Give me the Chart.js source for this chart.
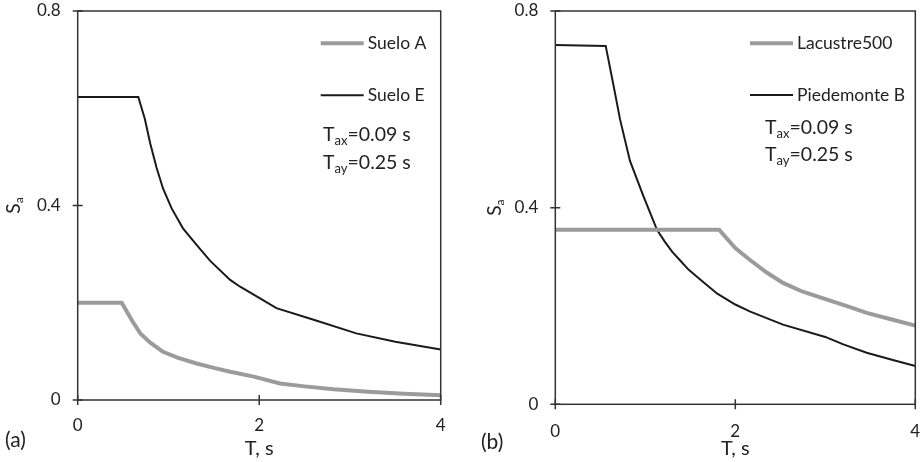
<!DOCTYPE html>
<html>
<head>
<meta charset="utf-8">
<script src="https://cdn.jsdelivr.net/npm/chart.js@4/dist/chart.umd.min.js"></script>
<style>
  body { margin: 0; background: #fff; }
  .panel { position: absolute; top: 0; width: 460px; height: 462px; }
</style>
</head>
<body>
<div class="panel" style="left:0"><canvas id="chartA" width="460" height="462"></canvas></div>
<div class="panel" style="left:460px"><canvas id="chartB" width="460" height="462"></canvas></div>
<script>
// panel (a)
var tSueloA = [0, 0.485, 0.6, 0.69, 0.8, 0.94, 1.1, 1.31, 1.5, 1.68, 1.94, 2.23, 2.5, 2.82, 3.2, 3.6, 4.0];
var sueloA  = [0.2, 0.2, 0.163, 0.137, 0.118, 0.099, 0.087, 0.075, 0.066, 0.058, 0.048, 0.034, 0.028, 0.022, 0.017, 0.013, 0.010];
var tSueloE = [0, 0.668, 0.74, 0.8, 0.87, 0.94, 1.035, 1.16, 1.31, 1.46, 1.68, 1.79, 2.0, 2.19, 2.6, 3.07, 3.5, 4.0];
var sueloE  = [0.623, 0.623, 0.578, 0.527, 0.477, 0.435, 0.394, 0.353, 0.319, 0.286, 0.247, 0.233, 0.21, 0.189, 0.165, 0.137, 0.12, 0.104];
// panel (b)
var tLacustre = [0, 1.82, 2.0, 2.16, 2.35, 2.53, 2.75, 3.02, 3.25, 3.46, 3.75, 4.0];
var lacustre  = [0.355, 0.355, 0.318, 0.294, 0.268, 0.247, 0.229, 0.213, 0.199, 0.186, 0.172, 0.160];
var tPiede = [0, 0.56, 0.64, 0.72, 0.83, 0.98, 1.13, 1.22, 1.3, 1.4, 1.48, 1.61, 1.8, 2.0, 2.16, 2.53, 3.0, 3.2, 3.46, 3.75, 4.0];
var piede  = [0.731, 0.729, 0.655, 0.579, 0.495, 0.423, 0.355, 0.33, 0.31, 0.29, 0.274, 0.254, 0.225, 0.203, 0.189, 0.162, 0.137, 0.122, 0.105, 0.09, 0.078];

var xTicks = [0, 2, 4];
var yTicks = [0, 0.4, 0.8];

var FONT = 'Lato, "Open Sans", sans-serif';
var AXIS = '#333333';
var TEXT = '#222222';

function pts(xs, ys) { return xs.map(function (x, i) { return { x: x, y: ys[i] }; }); }

// frame, crossing ticks, legend and notes drawn on top of the chart
var deco = {
  id: 'deco',
  afterDraw: function (chart, args, o) {
    var ctx = chart.ctx, a = chart.chartArea;
    var sx = chart.scales.x, sy = chart.scales.y;
    ctx.save();
    ctx.strokeStyle = AXIS;
    ctx.lineWidth = 1.5;
    ctx.strokeRect(a.left, a.top, a.right - a.left, a.bottom - a.top);
    ctx.beginPath();
    sy.ticks.forEach(function (t) {
      var py = sy.getPixelForValue(t.value);
      ctx.moveTo(a.left - 5, py); ctx.lineTo(a.left + 5, py);
    });
    sx.ticks.forEach(function (t) {
      var px = sx.getPixelForValue(t.value);
      ctx.moveTo(px, a.bottom - 5); ctx.lineTo(px, a.bottom + 5);
    });
    ctx.stroke();

    // legend
    ctx.textBaseline = 'middle';
    ctx.textAlign = 'left';
    ctx.font = '17.5px ' + FONT;
    chart.data.datasets.forEach(function (ds, i) {
      var ly = o.legendY[i];
      ctx.strokeStyle = ds.borderColor;
      ctx.lineWidth = ds.borderWidth;
      ctx.beginPath();
      ctx.moveTo(o.legendX, ly); ctx.lineTo(o.legendX + 43, ly);
      ctx.stroke();
      ctx.fillStyle = TEXT;
      ctx.fillText(ds.label, o.legendX + 47, ly);
    });

    // T_ax / T_ay notes
    o.notes.forEach(function (n, i) {
      var nx = o.noteX, ny = o.noteY[i];
      ctx.font = '19.5px ' + FONT;
      ctx.fillText('T', nx, ny);
      nx += ctx.measureText('T').width;
      ctx.font = '13px ' + FONT;
      ctx.fillText(n[0], nx, ny + 6);
      nx += ctx.measureText(n[0]).width;
      ctx.font = '19.5px ' + FONT;
      ctx.fillText(n[1], nx, ny);
    });

    // axis titles
    ctx.textAlign = 'center';
    ctx.font = '20px ' + FONT;
    ctx.fillText('T, s', (a.left + a.right) / 2, o.xTitleY);
    ctx.textAlign = 'left';
    ctx.font = '21px ' + FONT;
    ctx.fillText(o.tag, o.tagX, o.tagY);

    ctx.translate(o.yTitleX, (a.top + a.bottom) / 2);
    ctx.rotate(-Math.PI / 2);
    ctx.font = '19px ' + FONT;
    var w = ctx.measureText('S').width;
    ctx.fillText('S', -w / 2 - 3, 0);
    ctx.font = '12px ' + FONT;
    ctx.fillText('a', w / 2 - 3, 5);
    ctx.restore();
  }
};

function makeChart(id, sets, lay) {
  return new Chart(id, {
    type: 'line',
    data: {
      datasets: sets.map(function (s) {
        return {
          label: s.label,
          data: pts(s.t, s.v),
          borderColor: s.color,
          borderWidth: s.width,
          pointRadius: 0,
          tension: 0,
          fill: false
        };
      })
    },
    options: {
      responsive: false,
      animation: false,
      layout: { padding: { left: 0, right: lay.padRight, top: 11, bottom: 0 } },
      plugins: {
        legend: { display: false },
        tooltip: { enabled: false },
        deco: lay
      },
      scales: {
        x: {
          type: 'linear', min: 0, max: 4,
          afterBuildTicks: function (s) { s.ticks = xTicks.map(function (v) { return { value: v }; }); },
          afterFit: function (s) { s.height = lay.xHeight; s.paddingLeft = 0; s.paddingRight = 0; },
          grid: { display: false, drawTicks: false },
          border: { display: false },
          ticks: { padding: lay.xPad, color: TEXT, font: { family: FONT, size: 17 } }
        },
        y: {
          min: 0, max: 0.8,
          afterBuildTicks: function (s) { s.ticks = yTicks.map(function (v) { return { value: v }; }); },
          afterFit: function (s) { s.width = lay.yWidth; s.paddingTop = 0; s.paddingBottom = 0; },
          grid: { display: false, drawTicks: false },
          border: { display: false },
          ticks: { padding: 17, color: TEXT, font: { family: FONT, size: 17 } }
        }
      }
    },
    plugins: [deco]
  });
}

makeChart('chartA', [
  { label: 'Suelo A', t: tSueloA, v: sueloA, color: '#9b9b9b', width: 4 },
  { label: 'Suelo E', t: tSueloE, v: sueloE, color: '#1a1a1a', width: 2 }
], {
  padRight: 19.3, xHeight: 62, yWidth: 77.7, xPad: 15,
  legendX: 320.7, legendY: [43.3, 95.3],
  noteX: 323, noteY: [135, 163], notes: [['ax', '=0.09 s'], ['ay', '=0.25 s']],
  xTitleY: 449, yTitleX: 14, tag: '(a)', tagX: 5, tagY: 440
});

makeChart('chartB', [
  { label: 'Lacustre500', t: tLacustre, v: lacustre, color: '#9b9b9b', width: 4 },
  { label: 'Piedemonte B', t: tPiede, v: piede, color: '#1a1a1a', width: 2 }
], {
  padRight: 4.7, xHeight: 57.7, yWidth: 95.3, xPad: 17,
  legendX: 290, legendY: [43.3, 95],
  noteX: 305, noteY: [128, 155], notes: [['ax', '=0.09 s'], ['ay', '=0.25 s']],
  xTitleY: 449, yTitleX: 35, tag: '(b)', tagX: 21, tagY: 442
});
</script>
</body>
</html>
